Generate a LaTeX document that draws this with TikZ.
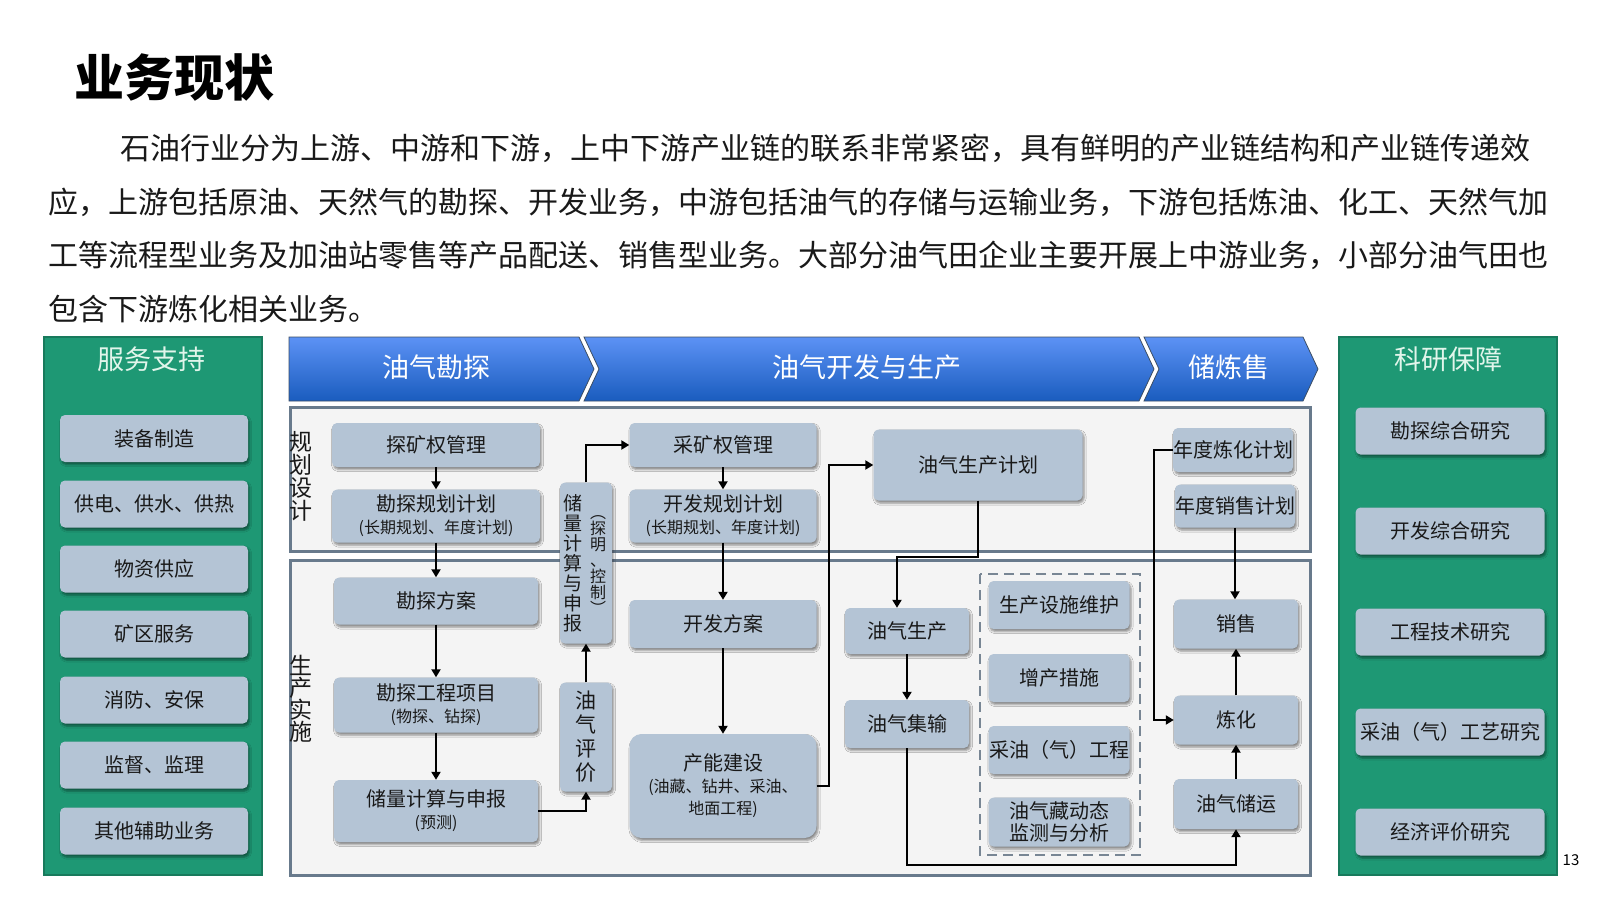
\documentclass[tikz,border=0pt]{standalone}
\usepackage{fontspec}
\setmainfont{Noto Sans CJK SC}
\usetikzlibrary{arrows.meta,shadows.blur,calc}
\definecolor{panelg}{RGB}{30,152,116}
\definecolor{panelgd}{RGB}{24,122,92}
\definecolor{boxc}{RGB}{180,196,213}
\definecolor{secbd}{RGB}{104,122,140}
\definecolor{secbg}{RGB}{244,244,244}
\definecolor{hdtop}{RGB}{92,146,245}
\definecolor{hdbot}{RGB}{26,92,190}
\definecolor{hdline}{RGB}{60,78,100}
\definecolor{mint}{RGB}{225,245,235}
\definecolor{dashc}{RGB}{120,134,148}
\tikzset{
  box/.style={fill=boxc, rounded corners=5pt, align=center, inner sep=0pt,
    font=\fontsize{20}{22}\selectfont, text=black!90,
    blur shadow={shadow xshift=1.5pt, shadow yshift=-2.5pt, shadow blur steps=4, shadow opacity=45}},
  conn/.style={line width=2.2pt, black, -{Triangle[width=9pt,length=8pt]}},
  panel/.style={fill=panelg, draw=panelgd, line width=1.5pt, inner sep=0pt},
  ptitle/.style={text=mint, font=\fontsize{27}{30}\selectfont, inner sep=0pt},
  htitle/.style={text=white, font=\fontsize{27}{30}\selectfont, inner sep=0pt},
  sec/.style={draw=secbd, fill=secbg, line width=3pt},
  hdr/.style={top color=hdtop, bottom color=hdbot, draw=hdline, line width=0.8pt},
  vtext/.style={align=center, inner sep=0pt, text=black!90},
  para/.style={anchor=west, inner sep=0pt, font=\fontsize{30}{36}\selectfont, text=black!90}
}
\newcommand\subf{\fontsize{16}{18}\selectfont}
\begin{document}
\begin{tikzpicture}[x=1pt,y=-1pt]
\useasboundingbox (0,0) rectangle (1599,900);
\fill[white] (0,0) rectangle (1599,900);

% title and paragraph
\node[anchor=west, inner sep=0pt, font=\fontsize{50}{50}\selectfont\bfseries] (title) at (74,77) {业务现状};
\node[para] (p1) at (120,148) {石油行业分为上游、中游和下游，上中下游产业链的联系非常紧密，具有鲜明的产业链结构和产业链传递效};
\node[para] (p2) at (48,202) {应，上游包括原油、天然气的勘探、开发业务，中游包括油气的存储与运输业务，下游包括炼油、化工、天然气加};
\node[para] (p3) at (48,255) {工等流程型业务及加油站零售等产品配送、销售型业务。大部分油气田企业主要开展上中游业务，小部分油气田也};
\node[para] (p4) at (48,309) {包含下游炼化相关业务。};

% left panel
\node[panel, minimum width=218pt, minimum height=538pt] (LP) at (153,606) {};
\node[ptitle] (LPt) at (151,359) {服务支持};
\node[box, minimum width=188pt, minimum height=47pt] (L1) at (154,438.5) {装备制造};
\node[box, minimum width=188pt, minimum height=47pt] (L2) at (154,504) {供电、供水、供热};
\node[box, minimum width=188pt, minimum height=47pt] (L3) at (154,569) {物资供应};
\node[box, minimum width=188pt, minimum height=47pt] (L4) at (154,634) {矿区服务};
\node[box, minimum width=188pt, minimum height=47pt] (L5) at (154,700) {消防、安保};
\node[box, minimum width=188pt, minimum height=47pt] (L6) at (154,765) {监督、监理};
\node[box, minimum width=188pt, minimum height=47pt] (L7) at (154,831) {其他辅助业务};

% right panel
\node[panel, minimum width=218pt, minimum height=538pt] (RP) at (1448,606) {};
\node[ptitle] (RPt) at (1448,359) {科研保障};
\node[box, minimum width=189pt, minimum height=47pt] (R1) at (1450,431) {勘探综合研究};
\node[box, minimum width=189pt, minimum height=47pt] (R2) at (1450,531) {开发综合研究};
\node[box, minimum width=189pt, minimum height=47pt] (R3) at (1450,632) {工程技术研究};
\node[box, minimum width=189pt, minimum height=47pt] (R4) at (1450,732) {采油（气）工艺研究};
\node[box, minimum width=189pt, minimum height=47pt] (R5) at (1450,832) {经济评价研究};
\node[inner sep=0pt, font=\fontsize{15}{16}\selectfont] (pg) at (1571,860) {13};

% header chevrons
\shade[hdr] (289,337) -- (579,337) -- (594,369) -- (579,401) -- (289,401) -- cycle;
\shade[hdr] (584,337) -- (1139,337) -- (1154,369) -- (1139,401) -- (584,401) -- (599,369) -- cycle;
\shade[hdr] (1144,337) -- (1303,337) -- (1318,369) -- (1303,401) -- (1144,401) -- (1159,369) -- cycle;
\node[htitle] (H1) at (436,367) {油气勘探};
\node[htitle] (H2) at (867,367) {油气开发与生产};
\node[htitle] (H3) at (1229,367) {储炼售};

% sections
\draw[sec] (290,407) rectangle (1310,551);
\draw[sec] (290,560) rectangle (1310,875);
\node[vtext, font=\fontsize{23}{23}\selectfont] (S1) at (301,476) {规\\划\\设\\计};
\node[vtext, font=\fontsize{23}{22}\selectfont] (S2) at (301,699) {生\\产\\实\\施};
\draw[dashc, line width=2.5pt, dash pattern=on 10pt off 6pt] (980,574) rectangle (1140,855);

% column 1
\node[box, minimum width=208pt, minimum height=44pt] (A1) at (436,445) {探矿权管理};
\node[box, minimum width=208pt, minimum height=53pt] (A2) at (436,516) {勘探规划计划\\\subf (长期规划、年度计划)};
\node[box, minimum width=204pt, minimum height=47pt] (A3) at (436,601) {勘探方案};
\node[box, minimum width=204pt, minimum height=55pt] (A4) at (436,705) {勘探工程项目\\\subf (物探、钻探)};
\node[box, minimum width=204pt, minimum height=62pt] (A5) at (436,811) {储量计算与申报\\\subf (预测)};

% column 2
\node[box, minimum width=52pt, minimum height=161pt] (B1) at (586,563) {};
\node[vtext, font=\fontsize{19}{20}\selectfont] (B1a) at (573,563) {储\\量\\计\\算\\与\\申\\报};
\node[vtext, font=\fontsize{16}{16}\selectfont] (B1b) at (598,565) {︵\\探\\明\\、\\控\\制\\︶};
\node[box, minimum width=52pt, minimum height=109pt, font=\fontsize{21}{24}\selectfont] (B2) at (586,737) {油\\气\\评\\价};

% column 3
\node[box, minimum width=187pt, minimum height=44pt] (C1) at (723,445) {采矿权管理};
\node[box, minimum width=187pt, minimum height=53pt] (C2) at (723,516) {开发规划计划\\\subf (长期规划、年度计划)};
\node[box, minimum width=187pt, minimum height=48pt] (C3) at (723,624) {开发方案};
\node[box, minimum width=187pt, minimum height=104pt, rounded corners=12pt] (C4) at (723,786) {产能建设\\\subf (油藏、钻井、采油、\\\subf 地面工程)};

% column 4
\node[box, minimum width=209pt, minimum height=71pt] (D1) at (978,465) {油气生产计划};
\node[box, minimum width=124pt, minimum height=46pt] (D2) at (907,631) {油气生产};
\node[box, minimum width=124pt, minimum height=48pt] (D3) at (907,724) {油气集输};

% dashed group
\node[box, minimum width=141pt, minimum height=48pt] (E1) at (1059,605) {生产设施维护};
\node[box, minimum width=141pt, minimum height=48pt] (E2) at (1059,678) {增产措施};
\node[box, minimum width=141pt, minimum height=48pt] (E3) at (1059,750) {采油（气）工程};
\node[box, minimum width=141pt, minimum height=49pt] (E4) at (1059,822) {油气藏动态\\监测与分析};

% column 5
\node[box, minimum width=120pt, minimum height=44pt] (F1) at (1233,450) {年度炼化计划};
\node[box, minimum width=120pt, minimum height=43pt] (F2) at (1235,506) {年度销售计划};
\node[box, minimum width=124pt, minimum height=49pt] (F3) at (1236,624) {销售};
\node[box, minimum width=124pt, minimum height=49pt] (F4) at (1236,720) {炼化};
\node[box, minimum width=124pt, minimum height=50pt] (F5) at (1236,804) {油气储运};

% connectors
\draw[conn] (A1.south) -- (A2.north);
\draw[conn] (A2.south) -- (A3.north);
\draw[conn] (A3.south) -- (A4.north);
\draw[conn] (A4.south) -- (A5.north);
\draw[conn] (A5.east) -| (B2.south);
\draw[conn] (B2.north) -- (B1.south);
\draw[conn] (B1.north) |- (C1.west);
\draw[conn] (C1.south) -- (C2.north);
\draw[conn] (C2.south) -- (C3.north);
\draw[conn] (C3.south) -- (C4.north);
\draw[conn] (C4.east) -- ++(12,0) |- (D1.west);
\coordinate (d2in) at ($(D2.north)+(-10,0)$);
\draw[conn] (D1.south) -- ++(0,56) -| (d2in);
\draw[conn] (D2.south) -- (D3.north);
\draw[conn] (D3.south) -- ++(0,117) -| (F5.south);
\draw[conn] (F5.north) -- (F4.south);
\draw[conn] (F4.north) -- (F3.south);
\coordinate (f3in) at ($(F3.north)+(-1,0)$);
\draw[conn] (F2.south) -- (f3in);
\draw[conn] (F1.west) -- ++(-19,0) |- (F4.west);
\end{tikzpicture}
\end{document}
